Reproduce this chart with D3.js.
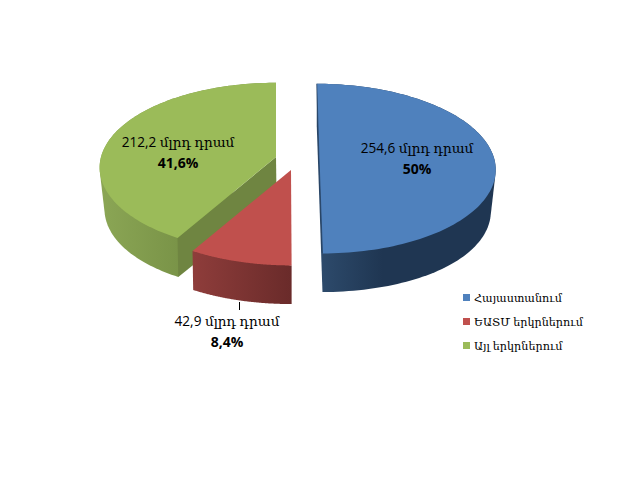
<!DOCTYPE html>
<html><head><meta charset="utf-8">
<script src="https://cdn.jsdelivr.net/npm/d3@7"></script>
<style>html,body{margin:0;padding:0;background:#fff}svg{display:block}</style>
</head><body><svg id="c" width="640" height="480"></svg>
<script>
const categories = ["Հայաստանում", "ԵԱՏՄ երկրներում", "Այլ երկրներում"];
const amounts = [254.6, 42.9, 212.2];
const amountLabels = ["254,6 մլրդ դրամ", "42,9 մլրդ դրամ", "212,2 մլրդ դրամ"];
const percentLabels = ["50%", "8,4%", "41,6%"];
const topColors = ["#4f81bd", "#c0504d", "#9bbb59"];
const wallStops = [
  [[0,"#2d4a6b"],[0.35,"#1f3652"],[1,"#1f3652"]],
  [[0,"#8f3d3b"],[1,"#6a2b2a"]],
  [[0,"#8ba655"],[1,"#7a9448"]]
];
const innerColors = ["#1f3652", "#6f2d2c", "#6f8541"];
// per-slice placement: [centre x, explode x, centre y]
const placement = [[299, 20, 158], [291, 0, 170], [276, 0, 157]];
const labelPos = [[417,153],[227,326],[178,147]];

const rx = 175, ry = 83.5, persp = 0.125, depth = 41, shrink = 0.975, shrinkX = 298;
const svg = d3.select("#c");
const defs = svg.append("defs");
const pie = d3.pie().sort(null).startAngle(0).endAngle(2*Math.PI);
const arcs = pie(amounts);
const project = (i, a) => {
  const [cx, ox, cy] = placement[i];
  const u = Math.sin(a), v = -Math.cos(a), s = 1/(1 - persp*v);
  return [cx + (ox + u*rx)*s, cy + ry*v*s];
};
const apex = i => [placement[i][0] + placement[i][1], placement[i][2]];
const lowerAt = (i, p, v) => {
  const sx = 1 - (1 - shrink)*(1 - v*v);
  return [shrinkX + (p[0]-shrinkX)*sx, placement[i][2] + depth + (p[1]-placement[i][2])*shrink];
};
const lowerArc = (i, a) => lowerAt(i, project(i,a), -Math.cos(a));
const line = d3.line();
const samples = d => d3.range(0, 121).map(k => d.startAngle + (d.endAngle-d.startAngle)*k/120);
const gx = [[322,495],[191,291],[100,177]];

[2,1,0].forEach(i => {
  const d = arcs[i], as = samples(d);
  const g = defs.append("linearGradient").attr("id","w"+i)
    .attr("gradientUnits","userSpaceOnUse")
    .attr("x1",gx[i][0]).attr("x2",gx[i][1]).attr("y1",0).attr("y2",0);
  wallStops[i].forEach(s => g.append("stop").attr("offset",s[0]).attr("stop-color",s[1]));

  const wall = d3.polygonHull(as.map(a => project(i,a)).concat(as.map(a => lowerArc(i,a))));
  svg.append("path").attr("d", line(wall)+"Z").attr("fill","url(#w"+i+")");
  if (i === 2) {
    const p = project(i,d.startAngle);
    svg.append("path").attr("d", line([apex(i),p,lowerArc(i,d.startAngle),lowerAt(i,apex(i),0)])+"Z").attr("fill",innerColors[i]);
  }
  const top = [apex(i)].concat(as.map(a => project(i,a)));
  svg.append("path").attr("d", line(top)+"Z").attr("fill",topColors[i]);
  if (i === 0) {
    svg.append("path").attr("d", line([project(i,d.startAngle),apex(i),project(i,d.endAngle)]))
      .attr("fill","none").attr("stroke",innerColors[i]).attr("stroke-width",0.6);
  }
});

svg.append("line").attr("x1",239.5).attr("x2",239.5).attr("y1",302).attr("y2",310).attr("stroke","#000");

const font = "'Open Sans','DejaVu Serif',serif";
labelPos.forEach((p,i) => {
  svg.append("text").attr("x",p[0]).attr("y",p[1]).attr("text-anchor","middle")
    .attr("font-family",font).attr("font-size",13.6).attr("fill","#000").text(amountLabels[i]);
  svg.append("text").attr("x",p[0]).attr("y",p[1]+21).attr("text-anchor","middle")
    .attr("font-family","'Open Sans',sans-serif").attr("font-size",14).attr("font-weight","bold").attr("fill","#000").text(percentLabels[i]);
});

const ly = d3.scalePoint().domain(categories).range([298,346]);
categories.forEach((c,i) => {
  svg.append("rect").attr("x",463).attr("y",ly(c)-4).attr("width",7).attr("height",7).attr("fill",topColors[i]);
  svg.append("text").attr("x",474).attr("y",ly(c)+4).attr("font-family",font).attr("font-size",11.2).attr("fill","#000").text(c);
});
</script></body></html>
